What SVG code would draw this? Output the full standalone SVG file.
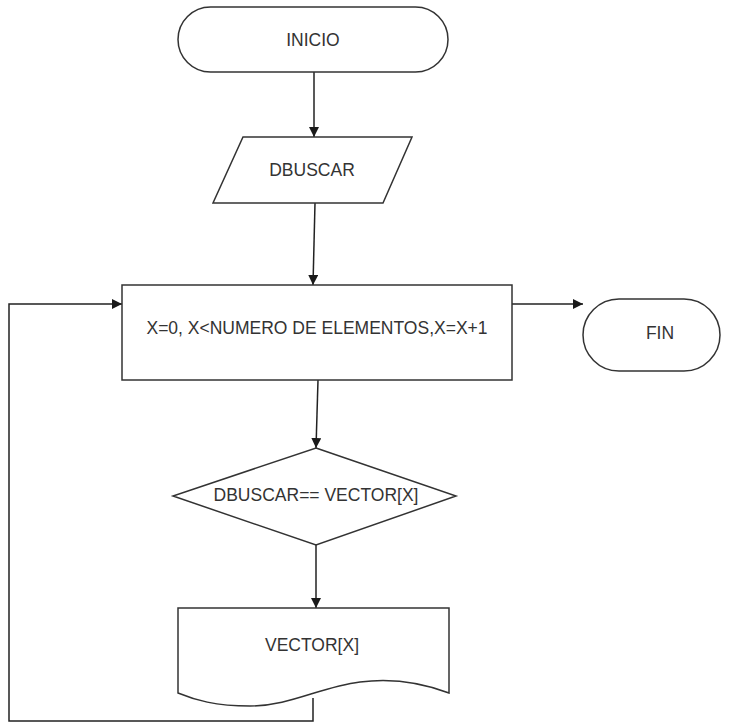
<svg xmlns="http://www.w3.org/2000/svg" width="736" height="725" viewBox="0 0 736 725">
  <defs>
    <marker id="arrow" viewBox="0 0 10 10" refX="10" refY="5" markerWidth="10" markerHeight="10" markerUnits="userSpaceOnUse" orient="auto">
      <path d="M0,0 L10,5 L0,10 z" fill="#1a1a1a"/>
    </marker>
  </defs>
  <style>
    .shape { fill: #ffffff; stroke: #333333; stroke-width: 1.5; }
    .edge { fill: none; stroke: #222222; stroke-width: 1.5; }
    .label { font-family: "Liberation Sans", Arial, sans-serif; font-size: 17.5px; fill: #333333; text-anchor: middle; dominant-baseline: central; }
  </style>
  <rect width="736" height="725" fill="#ffffff"/>

  <!-- connectors -->
  <g id="connectors">
    <path class="edge" d="M314,72 L314,137" marker-end="url(#arrow)"/>
    <path class="edge" d="M315,203 L313,285" marker-end="url(#arrow)"/>
    <path class="edge" d="M512,304 L583,304" marker-end="url(#arrow)"/>
    <path class="edge" d="M318,380 L316,448" marker-end="url(#arrow)"/>
    <path class="edge" d="M316,545 L316,608" marker-end="url(#arrow)"/>
    <path class="edge" d="M313,698 L313,721 L9,721 L9,304 L122,304" marker-end="url(#arrow)"/>
  </g>

  <!-- start terminator -->
  <g id="inicio">
    <rect class="shape" x="178" y="7" width="270" height="65" rx="32.5" ry="32.5"/>
    <text class="label" x="313" y="40">INICIO</text>
  </g>

  <!-- input -->
  <g id="dbuscar">
    <polygon class="shape" points="243,137 412,137 383,203 213,203"/>
    <text class="label" x="312" y="170">DBUSCAR</text>
  </g>

  <!-- loop header -->
  <g id="bucle">
    <rect class="shape" x="122" y="285" width="390" height="95"/>
    <text class="label" x="317" y="328">X=0, X&lt;NUMERO DE ELEMENTOS,X=X+1</text>
  </g>

  <!-- end terminator -->
  <g id="fin">
    <rect class="shape" x="583" y="299" width="137" height="72" rx="36" ry="36"/>
    <text class="label" x="660" y="333">FIN</text>
  </g>

  <!-- decision -->
  <g id="condicion">
    <polygon class="shape" points="316,448 456,496 316,545 173,496"/>
    <text class="label" x="316" y="495">DBUSCAR== VECTOR[X]</text>
  </g>

  <!-- document output -->
  <g id="vector">
    <path class="shape" d="M178,608 L449,608 L449,693 C420,682 390,678 360,682 C320,687 290,706 250,706 C215,706 195,700 178,693 Z"/>
    <text class="label" x="312" y="645">VECTOR[X]</text>
  </g>
</svg>
